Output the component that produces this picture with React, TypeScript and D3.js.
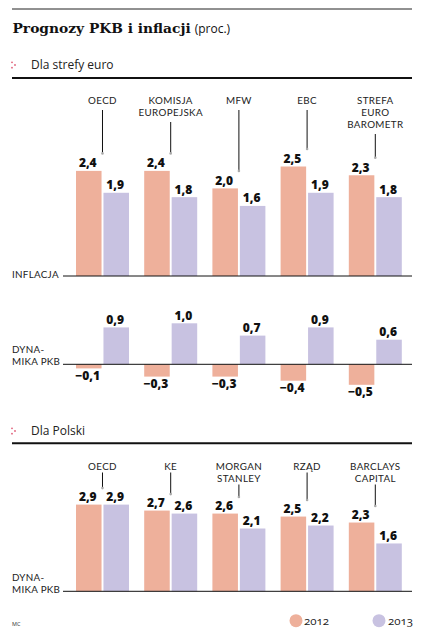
import React from 'react';
import * as d3 from 'd3';

// dane (proc.)
const euroCategories: string[][] = [['OECD'], ['KOMISJA', 'EUROPEJSKA'], ['MFW'], ['EBC'], ['STREFA', 'EURO', 'BAROMETR']];
const euroInflation2012 = [2.4, 2.4, 2.0, 2.5, 2.3];
const euroInflation2013 = [1.9, 1.8, 1.6, 1.9, 1.8];
const euroGdp2012 = [-0.1, -0.3, -0.3, -0.4, -0.5];
const euroGdp2013 = [0.9, 1.0, 0.7, 0.9, 0.6];

const plCategories: string[][] = [['OECD'], ['KE'], ['MORGAN', 'STANLEY'], ['RZĄD'], ['BARCLAYS', 'CAPITAL']];
const plGdp2012 = [2.9, 2.7, 2.6, 2.5, 2.3];
const plGdp2013 = [2.9, 2.6, 2.1, 2.2, 1.6];

const years = ['2012', '2013'];

const C2012 = '#eeb09b';
const C2013 = '#c8c2e1';
const SANS = '"Open Sans", "DejaVu Sans", sans-serif';
// ciaśniejsze metryki dla etykiet wielowierszowych
const LABEL = 'Lato, "Open Sans", sans-serif';

const fmt = d3.formatLocale({ decimal: ',', thousands: ' ', grouping: [3], currency: ['', ''] }).format('.1f');

const W = 422;
const H = 634;

const x = d3.scaleBand<number>().domain(d3.range(5)).range([76, 401.8]).paddingInner(0.223);
const xs = d3.scaleBand<string>().domain(years).range([0, x.bandwidth()]).paddingInner(0.07);

const yInfl = d3.scaleLinear().domain([0, 2.5]).range([276, 276 - 109.5]);
const yEuroGdp = d3.scaleLinear().domain([-0.5, 1.0]).range([364.3 + 20.5, 364.3 - 41]);
const yPl = d3.scaleLinear().domain([0, 2.9]).range([591.3, 591.3 - 86.7]);

type PanelProps = {
  a: number[];
  b: number[];
  y: d3.ScaleLinear<number, number>;
};

const Bars: React.FC<PanelProps> = ({ a, b, y }) => {
  const y0 = y(0);
  return (
    <g>
      {d3.range(5).map(i =>
        [a[i], b[i]].map((v, k) => {
          const bx = (x(i) || 0) + (xs(years[k]) || 0);
          const top = y(Math.max(0, v));
          const bottom = y(Math.min(0, v));
          const cx = bx + xs.bandwidth() / 2 - 1;
          return (
            <g key={`${i}-${k}`}>
              <rect x={bx} y={top} width={xs.bandwidth()} height={bottom - top} fill={k === 0 ? C2012 : C2013} />
              <text
                x={cx}
                y={v >= 0 ? top - 3.5 : bottom + 11.5}
                textAnchor="middle"
                fontFamily={SANS}
                fontWeight={800}
                fontSize={12}
                fill="#111"
              >
                {fmt(v)}
              </text>
            </g>
          );
        })
      )}
      <line x1={63} x2={412} y1={y0} y2={y0} stroke="#111" strokeWidth={1} />
    </g>
  );
};

type LabelProps = {
  cats: string[][];
  firstBaseline: number;
  lineH: number;
  gap: number;
  ends: number[];
};

// nazwy instytucji nad słupkami, z linią odniesienia
const CategoryLabels: React.FC<LabelProps> = ({ cats, firstBaseline, lineH, gap, ends }) => (
  <g>
    {cats.map((lines, i) => {
      const cx = (x(i) || 0) + x.bandwidth() / 2;
      const start = firstBaseline + (lines.length - 1) * lineH + gap;
      return (
        <g key={i}>
          {lines.map((t, j) => (
            <text
              key={j}
              x={cx}
              y={firstBaseline + j * lineH}
              textAnchor="middle"
              fontFamily={LABEL}
              fontSize={9.8}
              letterSpacing={0.35}
              fill="#222"
            >
              {t}
            </text>
          ))}
          <line x1={cx} x2={cx} y1={start} y2={ends[i]} stroke="#111" strokeWidth={1} />
          <circle cx={cx} cy={ends[i] + 0.5} r={1.3} fill="#aaa" />
        </g>
      );
    })}
  </g>
);

const Marker: React.FC<{ x: number; y: number }> = ({ x: mx, y: my }) => (
  <g fill="#e0607a">
    <circle cx={mx} cy={my - 2.7} r={0.9} />
    <circle cx={mx + 3} cy={my} r={0.9} />
    <circle cx={mx} cy={my + 2.7} r={0.9} />
  </g>
);

const AxisLabel: React.FC<{ lines: string[]; baseline: number; lineH: number }> = ({ lines, baseline, lineH }) => (
  <g>
    {lines.map((t, j) => (
      <text
        key={j}
        x={12}
        y={baseline - (lines.length - 1 - j) * lineH}
        fontFamily={LABEL}
        fontSize={9.8}
        letterSpacing={0.3}
        fill="#222"
      >
        {t}
      </text>
    ))}
  </g>
);

export default function App() {
  const euroEnds = euroInflation2012.map((v, i) => yInfl(Math.max(v, euroInflation2013[i])) - 18);
  const plEnds = plGdp2012.map((v, i) => yPl(Math.max(v, plGdp2013[i])) - 17);

  return (
    <div style={{ position: 'absolute', left: 0, top: 0, background: '#fff' }}>
      <svg width={W} height={H} viewBox={`0 0 ${W} ${H}`} style={{ display: 'block' }}>
        <rect width={W} height={H} fill="#fff" />
        <line x1={12} x2={412} y1={9} y2={9} stroke="#222" strokeWidth={1} />
        <text x={12.5} y={33.3} fill="#111">
          <tspan fontFamily='"DejaVu Serif", serif' fontWeight={700} fontSize={13.8}>Prognozy PKB i inflacji</tspan>
          <tspan fontFamily={SANS} fontSize={12} dx={4}>(proc.)</tspan>
        </text>

        {/* strefa euro */}
        <Marker x={12} y={65} />
        <text x={31} y={68.5} fontFamily={SANS} fontSize={12} fill="#222">Dla strefy euro</text>
        <line x1={12} x2={412} y1={78} y2={78} stroke="#111" strokeWidth={2} />

        <CategoryLabels cats={euroCategories} firstBaseline={104} lineH={12} gap={6} ends={euroEnds} />
        <Bars a={euroInflation2012} b={euroInflation2013} y={yInfl} />
        <AxisLabel lines={['INFLACJA']} baseline={277.5} lineH={12} />

        <Bars a={euroGdp2012} b={euroGdp2013} y={yEuroGdp} />
        <AxisLabel lines={['DYNA-', 'MIKA PKB']} baseline={364.5} lineH={12} />

        {/* Polska */}
        <Marker x={12} y={431} />
        <text x={31} y={435} fontFamily={SANS} fontSize={12} fill="#222">Dla Polski</text>
        <line x1={12} x2={412} y1={443.3} y2={443.3} stroke="#111" strokeWidth={2} />

        <CategoryLabels cats={plCategories} firstBaseline={469.5} lineH={12} gap={3} ends={plEnds} />
        <Bars a={plGdp2012} b={plGdp2013} y={yPl} />
        <AxisLabel lines={['DYNA-', 'MIKA PKB']} baseline={592.5} lineH={12} />

        {/* legenda */}
        <text x={12} y={626} fontFamily={SANS} fontSize={5.5} fill="#333">MC</text>
        {years.map((yr, k) => (
          <g key={yr}>
            <circle cx={k === 0 ? 296 : 379} cy={620.7} r={6.5} fill={k === 0 ? C2012 : C2013} />
            <text
              x={k === 0 ? 304 : 388}
              y={625}
              fontFamily={SANS}
              fontSize={11.5}
              fill="#222"
              style={{ fontVariantNumeric: 'oldstyle-nums' }}
            >
              {yr}
            </text>
          </g>
        ))}
      </svg>
    </div>
  );
}
